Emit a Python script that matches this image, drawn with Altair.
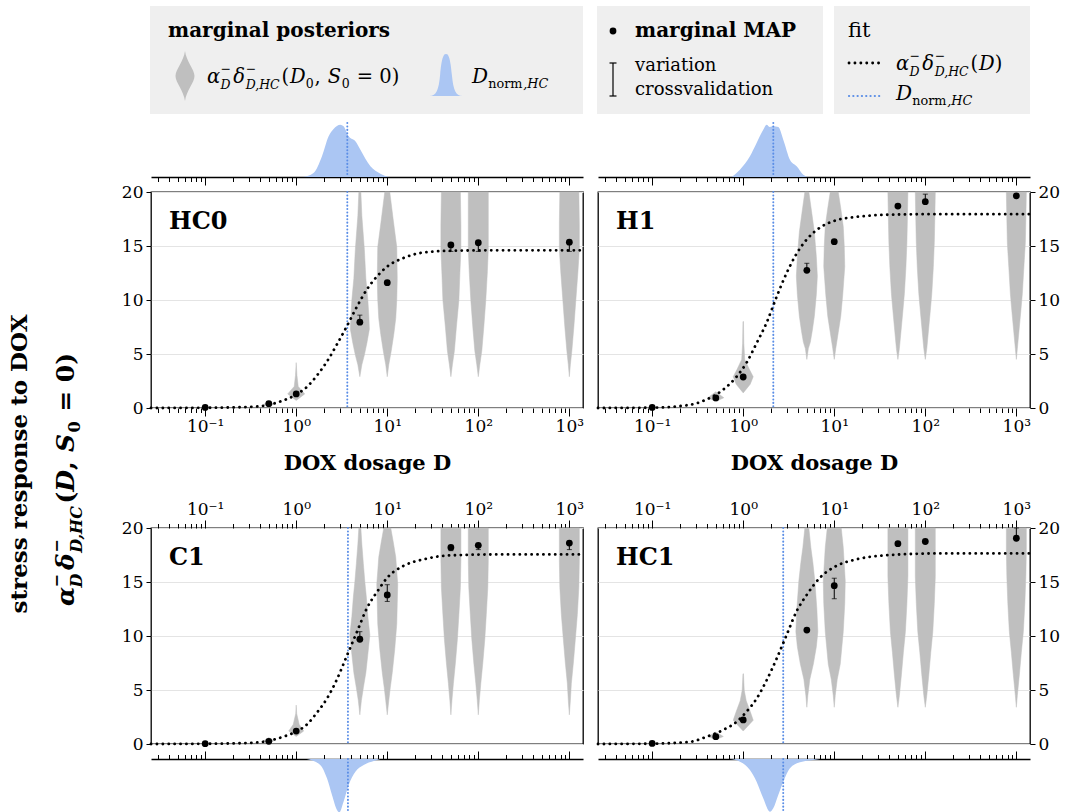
import altair as alt
import numpy as np
import pandas as pd

FONT = "DejaVu Serif"
GRAY = "#bfbfbf"
BLUE_FILL = "#abc6f3"
BLUE_LINE = "#5b8ee6"
BOX_FILL = "#efefef"

# ------------------------------------------------------------------ data
doses = [0.1, 0.5, 1, 5, 10, 50, 100, 1000]
panel_names = ["HC0", "H1", "C1", "HC1"]

map_values = {
    "HC0": [0.05, 0.4, 1.3, 7.95, 11.6, 15.1, 15.3, 15.35],
    "H1": [0.05, 0.93, 2.87, 12.75, 15.4, 18.7, 19.1, 19.65],
    "C1": [0.03, 0.25, 1.2, 9.7, 13.8, 18.2, 18.4, 18.6],
    "HC1": [0.05, 0.68, 2.23, 10.55, 14.66, 18.55, 18.75, 19.05],
}

err_dose = {"HC0": [5, 50, 100, 1000], "H1": [5, 100],
            "C1": [5, 10, 50, 100, 1000], "HC1": [10, 1000]}
err_low = {"HC0": [7.9, 14.5, 14.5, 14.5], "H1": [12.75, 19.1],
           "C1": [9.6, 13.2, 17.9, 18.0, 18.0], "HC1": [13.45, 19.05]}
err_high = {"HC0": [8.6, 15.1, 15.3, 15.35], "H1": [13.4, 19.8],
            "C1": [10.4, 14.75, 18.2, 18.4, 18.6], "HC1": [15.35, 20.0]}

d_norm = {"HC0": 3.64, "H1": 2.14, "C1": 3.70, "HC1": 2.75}

fit_log_dose = {
    "HC0": [-1.595, -1.0, -0.51, -0.3, -0.176, 0, 0.117, 0.227, 0.337, 0.448, 0.558,
            0.668, 0.778, 0.889, 1.0, 1.18, 1.40, 1.66, 2.2, 3.15],
    "H1": [-1.595, -1.0, -0.585, -0.40, -0.22, -0.073, 0.037, 0.147, 0.257, 0.367,
           0.477, 0.587, 0.697, 0.843, 1.026, 1.246, 1.61, 2.2, 3.15],
    "C1": [-1.595, -1.0, -0.51, -0.3, -0.14, 0, 0.117, 0.227, 0.337, 0.448, 0.558,
           0.668, 0.778, 0.889, 1.0, 1.18, 1.40, 1.66, 2.2, 3.15],
    "HC1": [-1.595, -1.0, -0.585, -0.40, -0.22, -0.073, 0.037, 0.147, 0.257, 0.367,
            0.477, 0.587, 0.697, 0.843, 1.026, 1.246, 1.61, 2.2, 3.15],
}
fit_values = {
    "HC0": [0.0, 0.02, 0.1, 0.3, 0.6, 1.25, 1.95, 3.0, 4.3, 5.9, 7.6, 9.4, 11.0, 12.2,
            13.1, 13.9, 14.4, 14.55, 14.6, 14.6],
    "H1": [0.0, 0.03, 0.3, 0.8, 1.7, 2.9, 4.2, 6.0, 7.9, 10.3, 12.5, 14.3, 15.6, 16.7,
           17.4, 17.7, 17.9, 17.95, 17.95],
    "C1": [0.0, 0.02, 0.1, 0.3, 0.68, 1.15, 1.8, 2.9, 4.2, 6.0, 8.2, 10.4, 12.6, 14.1,
           15.4, 16.5, 17.1, 17.45, 17.55, 17.55],
    "HC1": [0.0, 0.03, 0.2, 0.68, 1.3, 2.05, 3.0, 4.2, 5.9, 7.9, 10.1, 12.3, 13.8, 15.4,
            16.5, 17.1, 17.5, 17.65, 17.65],
}

# violin profiles: response level -> relative density (about 20 at the widest)
violin_y = {
    "HC0": {0.5: [0.15, 0.35, 0.6], 1: [0.7, 1.3, 2.0, 3.0, 4.2],
            5: [2.9, 4.0, 4.9, 6.0, 7.3, 8.5, 10, 12, 14.7, 17.8, 20],
            10: [2.9, 4, 5.3, 6.8, 8.3, 10, 12, 14.9, 17.4, 20],
            50: [2.9, 4, 5.3, 7.5, 10, 12.5, 14.7, 17, 20],
            100: [2.9, 4, 5.3, 7.5, 10, 12.5, 14.7, 17, 20],
            1000: [2.9, 4, 5.3, 7.5, 10, 12.5, 14.7, 17, 20]},
    "H1": {0.5: [0.6, 0.95, 1.5], 1: [1.4, 2.2, 2.9, 3.6, 4.5, 6, 8],
           5: [4.5, 5.5, 6.1, 7.2, 8.5, 10.5, 12.2, 14, 16.3, 18, 20],
           10: [4.5, 5.5, 7, 8.5, 10.5, 13.1, 15, 16.8, 18.5, 20],
           50: [4.5, 5.5, 7.5, 9, 10.6, 13, 15.3, 17.5, 20],
           100: [4.5, 5.5, 7.5, 9, 10.6, 13, 15.3, 17.5, 20],
           1000: [4.5, 5.5, 7.5, 9, 10.6, 13, 15.3, 17.5, 20]},
    "C1": {0.5: [0.1, 0.3, 0.6], 1: [0.7, 1.2, 1.8, 2.8, 3.6],
           5: [2.7, 4, 5.2, 6.6, 8.3, 10.1, 11.8, 13.6, 15, 16.7, 18.5, 20],
           10: [2.7, 4, 5.2, 6.6, 8.8, 11.1, 13, 14.8, 16, 17.3, 18.7, 20],
           50: [2.7, 4, 5.6, 7.5, 9.7, 12, 14.5, 17, 20],
           100: [2.7, 4, 5.6, 7.5, 9.7, 12, 14.5, 17, 20],
           1000: [2.7, 4, 5.6, 7.5, 9.7, 12, 14.5, 17, 20]},
    "HC1": {0.5: [0.4, 0.7, 1.1], 1: [1.2, 1.6, 2.2, 3.0, 4.0, 5.0, 6.5],
            5: [3.4, 4.5, 6, 7.4, 9, 10.4, 12.5, 15.1, 16.8, 18.2, 20],
            10: [3.4, 4.5, 6, 7.4, 10.4, 13, 15.1, 18.2, 20],
            50: [3.4, 4.5, 6.4, 8.5, 10.4, 13, 15.5, 18, 20],
            100: [3.4, 4.5, 6.4, 8.5, 10.4, 13, 15.5, 18, 20],
            1000: [3.4, 4.5, 6.4, 8.5, 10.4, 13, 15.5, 18, 20]},
}
violin_w = {
    "HC0": {0.5: [0, 10, 0], 1: [0, 17, 4, 1.5, 0],
            5: [0, 4, 9, 14, 19, 18, 16, 12, 9, 4, 2],
            10: [0, 3, 8, 13, 17, 19, 20, 19, 12, 5],
            50: [0, 3, 7, 11, 16, 18, 20, 20, 19],
            100: [0, 3, 7, 11, 15, 18, 20, 20, 20],
            1000: [0, 2, 5, 9, 13, 17, 20, 20, 19]},
    "H1": {0.5: [0, 16, 0], 1: [0, 14, 20, 12, 3, 1.2, 0.5],
           5: [0, 3, 7, 11, 15, 19, 21, 19, 15, 10, 4],
           10: [0, 3, 8, 13, 17, 21, 20, 18, 13, 8],
           50: [0, 3, 7, 10, 13, 16, 18, 19, 20],
           100: [0, 3, 7, 10, 13, 16, 18, 19, 20],
           1000: [0, 2, 6, 9, 12, 15, 18, 19, 20]},
    "C1": {0.5: [0, 10, 0], 1: [0, 15, 6, 1, 0],
           5: [0, 3, 7, 12, 16, 20, 16, 13, 10, 7, 4, 2],
           10: [0, 3, 6, 10, 15, 19, 20, 21, 19, 17, 12, 7],
           50: [0, 2, 5, 9, 13, 16, 19, 20, 20],
           100: [0, 2, 5, 9, 13, 16, 19, 20, 20],
           1000: [0, 2, 4, 8, 12, 16, 19, 20, 20]},
    "HC1": {0.5: [0, 15, 0], 1: [0, 8, 20, 14, 6, 2, 0.5],
            5: [0, 2, 6, 13, 19, 22, 20, 16, 12, 8, 4],
            10: [0, 2, 6, 12, 18, 21, 22, 18, 14],
            50: [0, 3, 7, 11, 15, 18, 20, 20, 20],
            100: [0, 3, 7, 11, 15, 18, 20, 20, 20],
            1000: [0, 2, 6, 10, 14, 17, 19, 20, 20]},
}

# marginal posterior of D_norm (log10 dose, density height)
dens_log_dose = {
    "HC0": [0.074, 0.19, 0.283, 0.356, 0.41, 0.485, 0.52, 0.576, 0.65, 0.705, 0.815, 0.925, 1.016],
    "H1": [-0.128, -0.036, 0.074, 0.147, 0.22, 0.257, 0.293, 0.33, 0.385, 0.44, 0.513, 0.587, 0.66, 0.714],
    "C1": [0.118, 0.264, 0.338, 0.393, 0.448, 0.474, 0.52, 0.576, 0.65, 0.741, 0.851, 0.925],
    "HC1": [-0.146, -0.036, 0.074, 0.147, 0.22, 0.293, 0.33, 0.385, 0.44, 0.513, 0.623, 0.77, 0.843],
}
dens_height = {
    "HC0": [0, 4, 20.7, 40.7, 48, 52.3, 50.7, 40.7, 35.7, 27.3, 10.7, 3.3, 0],
    "H1": [0, 7.3, 20.7, 34, 47.3, 52.3, 50, 50.7, 50, 37.3, 17.3, 10.7, 2.3, 0],
    "C1": [0, 6, 19.3, 36, 51, 53.3, 42.7, 26, 12.7, 6, 2, 0],
    "HC1": [0, 2.7, 11, 22.7, 39.3, 52.7, 49.3, 36, 22.7, 9.3, 3.3, 1, 0],
}

major_ticks = [0.1, 1, 10, 100, 1000]
major_labels = ["10⁻¹", "10⁰", "10¹", "10²", "10³"]
minor_mult = [2, 3, 4, 5, 6, 7, 8, 9]
minor_decades = [0.01, 0.1, 1, 10, 100]
y_ticks = [0, 5, 10, 15, 20]

# ------------------------------------------------------------------ style / layout
LOG_MIN, LOG_MAX = -1.595, 3.15
XDOM = [10 ** LOG_MIN, 10 ** LOG_MAX]
PW, PH, DH = 432, 216, 48
VIOLIN_SCALE = 1 / 182.0  # decades per density unit (half width)

minor_ticks = [round(m * d, 6) for d in minor_decades for m in minor_mult
               if XDOM[0] <= m * d <= XDOM[1]]
all_ticks = sorted(major_ticks + minor_ticks)
label_expr = " : ".join(f"datum.value == {v} ? '{l}'" for v, l in zip(major_ticks, major_labels)) + " : ''"
major_test = f"indexof({major_ticks}, datum.value) >= 0"
tick_size = {"condition": {"test": major_test, "value": 8}, "value": 4.5}

one = pd.DataFrame({"a": [0]})

# ------------------------------------------------------------------ math text helpers
WID = {"0": 0.636, "1": 0.636, "(": 0.39, ")": 0.39, ",": 0.318, " ": 0.318, "=": 0.838,
       "−": 0.838, "n": 0.64, "o": 0.602, "r": 0.478, "m": 0.948, "α": 0.65, "δ": 0.6,
       "D": 0.77, "H": 0.87, "C": 0.73, "S": 0.685}
SCRIPT = 0.64


def text_w(s, fs, bold=False):
    return sum(WID.get(c, 0.6) for c in s) * fs * (1.08 if bold else 1.0)


def math_rows(pieces, fs, bold=False):
    rows, cur = [], 0.0
    for p in pieces:
        kind = p[0]
        if kind in ("b", "sub"):
            _, t, it = p
            s = fs if kind == "b" else fs * SCRIPT
            lead = len(t) - len(t.lstrip(" "))
            rows.append(dict(t=t.strip(" "), pos=cur + text_w(" " * lead, s, bold),
                             off=0.0 if kind == "b" else 0.24 * fs, fs=s, it=it))
            cur += text_w(t, s, bold) + 0.04 * fs
        else:
            _, sup, sub, sub_it = p
            s = fs * SCRIPT
            rows.append(dict(t=sup, pos=cur, off=-0.5 * fs, fs=s, it=False))
            rows.append(dict(t=sub, pos=cur, off=0.32 * fs, fs=s, it=sub_it))
            cur += max(text_w(sup, s, bold), text_w(sub, s, bold)) + 0.12 * fs
    return rows, cur


def math_layers(rows, x0, y0, angle=0, bold=False):
    layers = []
    for r in rows:
        if angle == 0:
            px, py = x0 + r["pos"], y0 + r["off"]
        else:
            px, py = x0 + r["off"], y0 - r["pos"]
        mk = dict(align="left", baseline="alphabetic", font=FONT, text=r["t"],
                  fontSize=round(r["fs"], 2),
                  fontStyle="italic" if r["it"] else "normal",
                  fontWeight="bold" if bold else "normal", color="black")
        if angle:
            mk["angle"] = angle
        layers.append(alt.Chart(one).mark_text(**mk).encode(
            x=alt.value(round(px, 2)), y=alt.value(round(py, 2))))
    return layers


def txt(t, x, y, size, bold=False):
    return alt.Chart(one).mark_text(
        text=t, align="left", baseline="middle", font=FONT, fontSize=size,
        fontWeight="bold" if bold else "normal", color="black").encode(
        x=alt.value(x), y=alt.value(y))


post_label = [("b", "α", True), ("stack", "−", "D", True), ("b", "δ", True),
              ("stack", "−", "D,HC", True), ("b", "(", False), ("b", "D", True),
              ("sub", "0", False), ("b", ", ", False), ("b", "S", True), ("sub", "0", False),
              ("b", " = 0)", False)]
dnorm_label = [("b", "D", True), ("sub", "norm", False), ("sub", ",HC", True)]
fit_label = [("b", "α", True), ("stack", "−", "D", True), ("b", "δ", True),
             ("stack", "−", "D,HC", True), ("b", "(", False), ("b", "D", True), ("b", ")", False)]
ytitle_label = [("b", "α", True), ("stack", "−", "D", True), ("b", "δ", True),
                ("stack", "−", "D,HC", True), ("b", "(", False), ("b", "D", True),
                ("b", ", ", False), ("b", "S", True), ("sub", "0", False), ("b", " = 0)", False)]


# ------------------------------------------------------------------ panels
def x_axis(orient, labels, title=None, domain=False):
    kw = dict(orient=orient, values=all_ticks, labelExpr=label_expr, labels=labels,
              tickSize=tick_size, tickColor="black", tickWidth=1, grid=False,
              domain=domain, domainColor="black", domainWidth=1.4,
              labelFont=FONT, labelFontSize=17, labelColor="black", labelPadding=2,
              labelOverlap=False, labelFlush=False, title=title)
    if title:
        kw.update(titleFont=FONT, titleFontSize=21, titleFontWeight="bold",
                  titleColor="black", titlePadding=18)
    return alt.Axis(**kw)


def y_axis(orient):
    return alt.Axis(orient=orient, values=y_ticks, grid=True, gridColor="#e4e4e4",
                    gridWidth=1, tickSize=5, tickColor="black", domain=False,
                    labelFont=FONT, labelFontSize=17, labelColor="black",
                    labelPadding=3, title=None)


def xs():
    return alt.Scale(type="log", domain=XDOM, nice=False)


def ys():
    return alt.Scale(domain=[0, 20], nice=False, zero=False)


def main_panel(name, row, col, extra=()):
    orient_x = "bottom" if row == 0 else "top"
    title = "DOX dosage D" if row == 0 else None
    xa = x_axis(orient_x, True, title)
    ya = y_axis("left" if col == 0 else "right")

    def X(f):
        return alt.X(f, type="quantitative", scale=xs(), axis=xa)

    def Y(f):
        return alt.Y(f, type="quantitative", scale=ys(), axis=ya)

    # violins as closed polygons (right side upward, left side downward)
    rows = []
    for d in violin_y[name]:
        yl, wl = violin_y[name][d], violin_w[name][d]
        k = 0
        for yv, wv in zip(yl, wl):
            rows.append(dict(dose=d, k=k, y=yv, x=d * 10 ** (wv * VIOLIN_SCALE)))
            k += 1
        for yv, wv in zip(yl[::-1], wl[::-1]):
            rows.append(dict(dose=d, k=k, y=yv, x=d * 10 ** (-wv * VIOLIN_SCALE)))
            k += 1
    vdf = pd.DataFrame(rows)
    violins_poly = alt.Chart(vdf).mark_line(
        fill=GRAY, stroke=GRAY, strokeWidth=0.5, interpolate="linear").encode(
        x=X("x"), y=Y("y"), detail="dose:N", order=alt.Order("k:Q"))

    rule = alt.Chart(pd.DataFrame({"d": [d_norm[name]]})).mark_rule(
        color=BLUE_LINE, strokeWidth=2, strokeDash=[0.1, 3.3], strokeCap="round").encode(x=X("d"))

    fdf = pd.DataFrame({"d": [10 ** v for v in fit_log_dose[name]], "v": fit_values[name]})
    fit = alt.Chart(fdf).mark_line(color="black", strokeWidth=2.8, strokeDash=[0.1, 5.8],
                                   strokeCap="round", interpolate="monotone").encode(
        x=X("d"), y=Y("v"))

    edf = pd.DataFrame({"dose": err_dose[name], "lo": err_low[name], "hi": err_high[name]})
    err = alt.Chart(edf).mark_errorbar(ticks=True, color="black").encode(
        x=X("dose"), y=Y("lo"), y2=alt.Y2("hi"))

    pdf = pd.DataFrame({"dose": doses, "v": map_values[name]})
    pts = alt.Chart(pdf).mark_circle(size=46, color="black", opacity=1).encode(
        x=X("dose"), y=Y("v"))

    lab = alt.Chart(one).mark_text(
        text=name, align="left", baseline="alphabetic", font=FONT, fontSize=24,
        fontWeight="bold", color="black").encode(x=alt.value(18), y=alt.value(37))

    return alt.layer(violins_poly, rule, fit, err, pts, lab, *extra).properties(
        width=PW, height=PH, view=alt.ViewBackground(stroke="black", strokeWidth=1.3))


def dens_panel(name, top):
    xa = x_axis("bottom" if top else "top", False, None, domain=True)
    ddf = pd.DataFrame({"d": [10 ** v for v in dens_log_dose[name]], "h": dens_height[name]})
    area = alt.Chart(ddf).mark_area(color=BLUE_FILL, opacity=1, interpolate="monotone").encode(
        x=alt.X("d:Q", scale=xs(), axis=xa),
        y=alt.Y("h:Q", scale=alt.Scale(domain=[0, DH], reverse=not top, nice=False), axis=None))
    rule = alt.Chart(pd.DataFrame({"d": [d_norm[name]]})).mark_rule(
        color=BLUE_LINE, strokeWidth=2, strokeDash=[0.1, 3.3], strokeCap="round").encode(
        x=alt.X("d:Q", scale=xs(), axis=xa))
    if top:
        rule = rule.encode(y=alt.value(-6), y2=alt.value(DH))
    else:
        rule = rule.encode(y=alt.value(0), y2=alt.value(DH + 6))
    return alt.layer(area, rule).properties(
        width=PW, height=DH, view=alt.ViewBackground(stroke="transparent"))


# ------------------------------------------------------------------ legends
VIOLIN_PATH = ("M0,-1 C0.05,-0.6 0.38,-0.25 0.38,0 C0.38,0.25 0.05,0.6 0,1 "
               "C-0.05,0.6 -0.38,0.25 -0.38,0 C-0.38,-0.25 -0.05,-0.6 0,-1 Z")
DENS_PATH = ("M-0.79,1 C-0.45,1 -0.35,0.7 -0.28,0 C-0.2,-0.9 -0.1,-1 0,-1 "
             "C0.1,-1 0.2,-0.9 0.28,0 C0.35,0.7 0.45,1 0.79,1 Z")

r1, _ = math_rows(post_label, 19.5)
r2, _ = math_rows(dnorm_label, 20)
box1 = alt.layer(
    alt.Chart(one).mark_rect(color=BOX_FILL).encode(
        x=alt.value(-1), x2=alt.value(PW), y=alt.value(0), y2=alt.value(108)),
    txt("marginal posteriors", 17, 25, 20, bold=True),
    alt.Chart(one).mark_point(shape=VIOLIN_PATH, size=2500, filled=True, color=GRAY,
                              opacity=1, strokeWidth=0).encode(x=alt.value(34), y=alt.value(70)),
    *math_layers(r1, 56, 77),
    alt.Chart(one).mark_point(shape=DENS_PATH, size=1764, filled=True, color=BLUE_FILL,
                              opacity=1, strokeWidth=0).encode(x=alt.value(295), y=alt.value(69)),
    *math_layers(r2, 321, 77),
).properties(width=PW, height=108, view=alt.ViewBackground(stroke="transparent"))

r3, _ = math_rows(fit_label, 19.5)
r4, _ = math_rows(dnorm_label, 20)
B3 = 236
box23 = alt.layer(
    alt.Chart(one).mark_rect(color=BOX_FILL).encode(
        x=alt.value(-1), x2=alt.value(225), y=alt.value(0), y2=alt.value(108)),
    alt.Chart(one).mark_rect(color=BOX_FILL).encode(
        x=alt.value(B3), x2=alt.value(PW), y=alt.value(0), y2=alt.value(108)),
    alt.Chart(one).mark_circle(size=46, color="black", opacity=1).encode(
        x=alt.value(15), y=alt.value(25)),
    txt("marginal MAP", 37, 25, 20, bold=True),
    alt.Chart(one).mark_rule(color="black", strokeWidth=1.2).encode(
        x=alt.value(15), y=alt.value(57), y2=alt.value(90)),
    alt.Chart(one).mark_rule(color="black", strokeWidth=1.2).encode(
        x=alt.value(11.5), x2=alt.value(18.5), y=alt.value(57)),
    alt.Chart(one).mark_rule(color="black", strokeWidth=1.2).encode(
        x=alt.value(11.5), x2=alt.value(18.5), y=alt.value(90)),
    txt("variation", 37, 60, 18),
    txt("crossvalidation", 37, 84, 18),
    txt("fit", B3 + 14, 25, 21),
    alt.Chart(one).mark_rule(color="black", strokeWidth=2.8, strokeDash=[0.1, 5.8],
                             strokeCap="round").encode(
        x=alt.value(B3 + 15), x2=alt.value(B3 + 48), y=alt.value(57)),
    *math_layers(r3, B3 + 62, 64),
    alt.Chart(one).mark_rule(color=BLUE_LINE, strokeWidth=2.2, strokeDash=[0.1, 4.2],
                             strokeCap="round").encode(
        x=alt.value(B3 + 15), x2=alt.value(B3 + 48), y=alt.value(90)),
    *math_layers(r4, B3 + 62, 94),
).properties(width=PW, height=108, view=alt.ViewBackground(stroke="transparent"))

# ------------------------------------------------------------------ y title (placed left of HC0)
ry, ylen = math_rows(ytitle_label, 25, bold=True)
title_layers = [
    alt.Chart(one).mark_point(opacity=0).encode(x=alt.value(-146), y=alt.value(100)),
    alt.Chart(one).mark_text(
        text="stress response to DOX", angle=270, align="center", baseline="alphabetic",
        font=FONT, fontSize=23, fontWeight="bold", color="black").encode(
        x=alt.value(-124), y=alt.value(272)),
    *math_layers(ry, -77, 287 + ylen / 2, angle=270, bold=True),
]

spacer = alt.Chart(one).mark_point(opacity=0).encode(
    x=alt.value(0), y=alt.value(0)).properties(
    width=PW, height=90, view=alt.ViewBackground(stroke="transparent"))

cells = [
    box1, box23,
    dens_panel("HC0", True), dens_panel("H1", True),
    main_panel("HC0", 0, 0, title_layers), main_panel("H1", 0, 1),
    spacer, spacer,
    main_panel("C1", 1, 0), main_panel("HC1", 1, 1),
    dens_panel("C1", False), dens_panel("HC1", False),
]

chart = alt.concat(*cells, columns=2, spacing=15, bounds="flush").properties(
    padding={"left": 1, "top": 5, "right": 5, "bottom": 5}).configure(
    font=FONT, background="white").configure_view(stroke="transparent")

chart.save("out.html", embed_options={"renderer": "svg", "actions": False})
